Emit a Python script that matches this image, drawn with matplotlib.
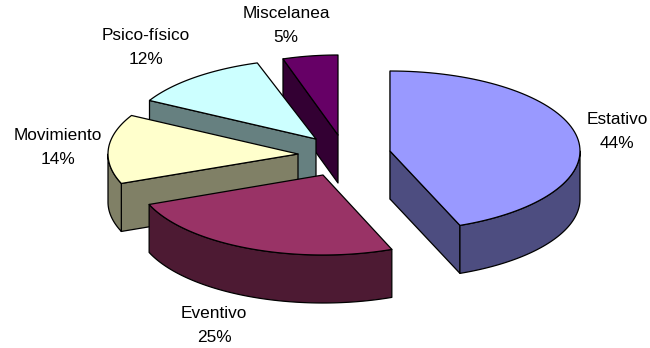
import numpy as np
import matplotlib
matplotlib.use('Agg')
import matplotlib.pyplot as plt
from matplotlib.patches import Polygon

categories = ['Estativo', 'Eventivo', 'Movimiento', 'Psico-físico', 'Miscelanea']
values = [44, 25, 14, 12, 5]
top_colors = ['#9999FF', '#993366', '#FFFFCC', '#CCFFFF', '#660066']
side_colors = ['#4D4D80', '#4D1A33', '#808066', '#668080', '#330033']

# where each exploded slice sits in the picture (apex x, apex y, radius x)
apex = [(390, 151, 190), (323, 175, 187), (298, 154, 190), (316, 139, 190), (338, 135, 178)]
label_pos = [(617, 120), (214, 314), (58, 135), (146, 35), (286, 14)]
ry = 80
depth = 48

plt.rcParams['font.family'] = ['Liberation Sans', 'DejaVu Sans']
fig = plt.figure(figsize=(6.5, 3.48), dpi=100)
ax = fig.add_axes([0, 0, 1, 1])
ax.set_xlim(0, 650)
ax.set_ylim(348, 0)
ax.axis('off')


def arc(cx, cy, rx, a0, a1):
    t = np.radians(np.linspace(a0, a1, 80))
    return np.column_stack([cx + rx * np.sin(t), cy - ry * np.cos(t)])


def face(pts, color, z):
    ax.add_patch(Polygon(pts, closed=True, facecolor=color, edgecolor='black', linewidth=0.9, zorder=z, joinstyle='round'))


total = sum(values)
edges = np.cumsum([0] + values) / total * 360

# back slices first so the nearer ones cover them
order = [4, 3, 2, 1, 0]
for n, i in enumerate(order):
    cx, cy, rx = apex[i]
    a0, a1 = edges[i], edges[i + 1]
    z = n * 3 + 1
    # cut faces: only the ones turned to the viewer
    if a0 < 180:
        a_cut = [a1]
    else:
        a_cut = [a0]
    if i == 0:
        a_cut = [a0, a1]
    if i == 1:
        a_cut = []
    for a in a_cut:
        p = arc(cx, cy, rx, a, a)[0]
        face([(cx, cy), p, (p[0], p[1] + depth), (cx, cy + depth)], side_colors[i], z)
    lo, hi = max(a0, 90), min(a1, 270)
    if hi > lo:
        rim = arc(cx, cy, rx, lo, hi)
        face(np.vstack([rim, rim[::-1] + [0, depth]]), side_colors[i], z + 1)
    top = arc(cx, cy, rx, a0, a1)
    face(np.vstack([[(cx, cy)], top]), top_colors[i], z + 2)

for name, v, (x, y) in zip(categories, values, label_pos):
    ax.text(x, y, name, ha='center', va='center', fontsize=12.4, color='black', zorder=50)
    ax.text(x, y + 24, '%d%%' % v, ha='center', va='center', fontsize=12.4, color='black', zorder=50)

fig.savefig('out.png', dpi=100)
